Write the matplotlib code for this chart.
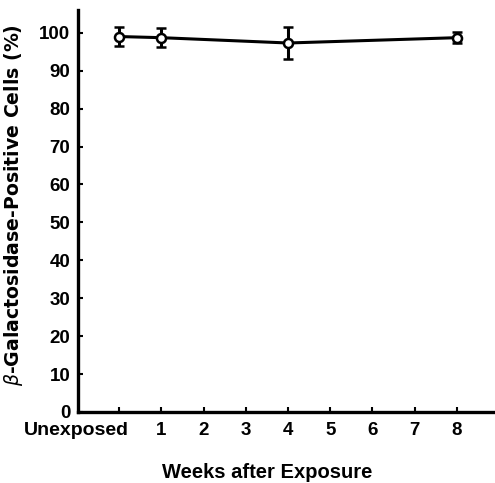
import matplotlib
matplotlib.use("Agg")
import matplotlib.pyplot as plt
from matplotlib.transforms import ScaledTranslation

# Data
tick_positions = [0, 1, 2, 3, 4, 5, 6, 7, 8]
tick_labels = ["Unexposed", "1", "2", "3", "4", "5", "6", "7", "8"]
weeks = [0, 1, 4, 8]
positive_pct = [99.0, 98.7, 97.3, 98.7]
errors = [2.5, 2.5, 4.2, 1.5]
y_ticks = [0, 10, 20, 30, 40, 50, 60, 70, 80, 90, 100]

plt.rcParams['font.family'] = ['Liberation Sans', 'DejaVu Sans']
plt.rcParams['mathtext.fontset'] = 'dejavusans'

fig = plt.figure(figsize=(4.95, 4.83), dpi=100)
ax = fig.add_axes([78/495, (483-412)/483, 1 - 78/495, (412-10)/483])

ax.errorbar(weeks, positive_pct, yerr=errors, color='black', lw=2.2,
            elinewidth=2.2, capsize=3.6, capthick=2.6,
            marker='o', markersize=6.5, markerfacecolor='white',
            markeredgecolor='black', markeredgewidth=1.8, zorder=3)

ax.set_xlim(-0.979, 8.908)
ax.set_ylim(0, 106)

for side in ['top', 'right']:
    ax.spines[side].set_visible(False)
for side in ['left', 'bottom']:
    ax.spines[side].set_linewidth(2.4)

ax.set_xticks(tick_positions)
ax.set_xticklabels(tick_labels)
ax.set_yticks(y_ticks)
ax.tick_params(axis='both', direction='in', length=3.6, width=1.5,
               labelsize=13.5)
ax.tick_params(axis='y', pad=5.5)
ax.tick_params(axis='x', pad=7)
for lab in ax.get_xticklabels() + ax.get_yticklabels():
    lab.set_fontweight('bold')

first = ax.get_xticklabels()[0]
first.set_fontsize(14)
first.set_horizontalalignment('right')
first.set_transform(first.get_transform() + ScaledTranslation(10/100, 0, fig.dpi_scale_trans))

ax.set_xlabel("Weeks after Exposure", fontsize=14.5, fontweight='bold')
ax.xaxis.label.set_verticalalignment('center')
ax.xaxis.set_label_coords((267 - 78) / 417, -(473 - 412) / 402)

ax.set_ylabel(r"$\beta$-Galactosidase-Positive Cells (%)", fontsize=13.6,
              fontweight='bold', family='DejaVu Sans')
ax.yaxis.set_label_coords((25 - 78) / 417, (412 - 205) / 402)

fig.savefig("out.png", dpi=100)
